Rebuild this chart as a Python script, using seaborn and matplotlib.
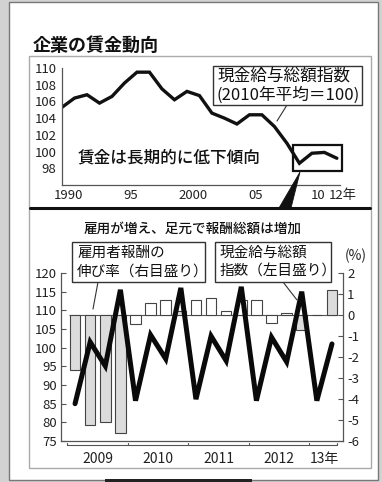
import numpy as np
import pandas as pd
import seaborn as sns
import matplotlib.pyplot as plt
from matplotlib import font_manager
from matplotlib.patches import Rectangle, Polygon
from matplotlib.lines import Line2D
from matplotlib.transforms import ScaledTranslation, blended_transform_factory

# top panel: annual wage index (2010 = 100)
years = list(range(1990, 2013))
wage_index = [105.3, 106.4, 106.8, 105.8, 106.6, 108.2, 109.5, 109.5, 107.5, 106.2,
              107.2, 106.7, 104.6, 104.0, 103.3, 104.4, 104.4, 103.0, 101.0, 98.6,
              99.8, 99.9, 99.2]
top_ticks = [1990, 1995, 2000, 2005, 2010, 2012]
top_ticklabels = ["1990", "95", "2000", "05", "10", "12年"]

# bottom panel: quarterly, 2009 Q1 .. 2013 Q2
quarters = list(range(18))
cash_index = [85.0, 101.5, 95.1, 115.5, 85.8, 103.4, 97.0, 116.0, 86.2,
              103.1, 96.5, 116.3, 85.8, 102.8, 96.2, 115.0, 85.8, 101.0]
comp_growth = [-2.6, -5.25, -5.1, -5.6, -0.45, 0.55, 0.7, 0.2, 0.7,
               0.8, 0.2, 0.7, 0.7, -0.4, 0.1, -0.7, 0.0, 1.2]
bar_fill = ["dot", "dot", "dot", "dot", "plain", "plain", "plain", "dot", "plain",
            "plain", "plain", "plain", "plain", "plain", "plain", "dot", "plain", "dot"]
year_centers = [1.5, 5.5, 9.5, 13.5, 16.5]
year_labels = ["2009", "2010", "2011", "2012", "13年"]
year_bounds = [-0.5, 3.5, 7.5, 11.5, 15.5, 17.3]
left_ticks = list(range(75, 121, 5))
right_ticks = list(range(-6, 3))

sns.set_style("white")
plt.rcParams['font.family'] = ['Noto Sans CJK JP', 'DejaVu Sans']
plt.rcParams['axes.unicode_minus'] = False

# narrow digits like the print original, if the narrow face is there
try:
    font_manager.findfont('Liberation Sans Narrow', fallback_to_default=False)
    tick_font = ['Liberation Sans Narrow', 'Noto Sans CJK JP', 'DejaVu Sans']
    tick_size = 10.5
except ValueError:
    tick_font = ['Noto Sans CJK JP', 'DejaVu Sans']
    tick_size = 9.5

W, H = 382, 482
fig = plt.figure(figsize=(W / 100, H / 100), dpi=100)
fig.patch.set_facecolor('#d2d2d2')


def box_px(x0, y0, x1, y1, **kw):
    r = Rectangle((x0 / W, 1 - y1 / H), (x1 - x0) / W, (y1 - y0) / H,
                  transform=fig.transFigure, **kw)
    fig.add_artist(r)


def text_px(x, y, s, **kw):
    fig.text(x / W, 1 - y / H, s, va='center', **kw)


def line_px(xs, ys, **kw):
    fig.add_artist(Line2D([x / W for x in xs], [1 - y / H for y in ys],
                          transform=fig.transFigure, **kw))


# page and frame
box_px(9, 2, 378, 480, facecolor='white', edgecolor='#777', lw=1, zorder=0)
box_px(29, 56, 371, 468, facecolor='none', edgecolor='#aaa', lw=1, zorder=1)
box_px(105, 479, 252, 482, facecolor='#222', edgecolor='none', zorder=1)

spine_col = '#555'

# ---------------- top panel ----------------
ax1 = fig.add_axes([62 / W, 1 - 185 / H, 278 / W, 117 / H])
ax1.patch.set_visible(False)
df_top = pd.DataFrame({"year": years, "index": wage_index})
sns.lineplot(data=df_top, x="year", y="index", ax=ax1, color='#111', lw=2.4,
             solid_joinstyle='miter')
ax1.set_xlim(1990, 2012.25)
ax1.set_ylim(96, 110)
ax1.set_yticks(range(98, 111, 2))
ax1.set_xticks(top_ticks)
ax1.set_xticklabels(top_ticklabels)
ax1.set_xticks(years, minor=True)
ax1.set_xlabel("")
ax1.set_ylabel("")
for s in ['top', 'right']:
    ax1.spines[s].set_visible(False)
for s in ['left', 'bottom']:
    ax1.spines[s].set_color(spine_col)
    ax1.spines[s].set_linewidth(0.9)
ax1.tick_params(axis='both', which='both', direction='in', color=spine_col,
                width=0.8, length=2.5)
ax1.tick_params(axis='y', length=3.5, pad=4)
ax1.tick_params(axis='x', pad=3)
for lab in ax1.get_yticklabels() + ax1.get_xticklabels():
    lab.set_family(tick_font)
    lab.set_fontsize(tick_size)
    lab.set_color('#222')
shift = ScaledTranslation(0.06, 0, fig.dpi_scale_trans)
for lab in ax1.get_xticklabels():
    lab.set_transform(lab.get_transform() + shift)

# small box around recent years
ax1.add_patch(Rectangle((2008.48, 97.64), 3.92, 3.12, facecolor='none',
                        edgecolor='#111', lw=1.6, clip_on=False))

# annotation box, text and connectors
box_px(213, 66, 362, 105, facecolor='white', edgecolor='#333', lw=1.0, zorder=3)
text_px(218, 76, "現金給与総額指数", fontsize=12, color='#111', zorder=4)
text_px(216, 95, "(2010年平均＝100)", fontsize=12, color='#111', zorder=4)
line_px([287, 277], [105, 121], color='#333', lw=0.8)
text_px(78, 157, "賃金は長期的に低下傾向", fontsize=12, fontweight='medium', color='#111')
text_px(33, 45, "企業の賃金動向", fontsize=13, fontweight='bold', color='#111')

fig.add_artist(Polygon([(300 / W, 1 - 172 / H), (279 / W, 1 - 208 / H), (291 / W, 1 - 208 / H)],
                       closed=True, transform=fig.transFigure, facecolor='#111',
                       edgecolor='#111', lw=0.6))
line_px([30, 370], [208, 208], color='#111', lw=2.2)
text_px(193, 229, "雇用が増え、足元で報酬総額は増加", fontsize=9.8, ha='center',
        fontweight='medium', color='#111')

# ---------------- bottom panel ----------------
ax = fig.add_axes([61 / W, 1 - 441 / H, 282 / W, 168 / H])
ax2 = ax.twinx()
df_bot = pd.DataFrame({"q": quarters, "cash": cash_index, "growth": comp_growth,
                       "fill": bar_fill})
sns.barplot(data=df_bot, x="q", y="growth", hue="fill", native_scale=True,
            palette={"dot": "#dcdcdc", "plain": "white"}, saturation=1,
            dodge=False, width=0.7, edgecolor='#444', linewidth=0.8,
            legend=False, ax=ax2, errorbar=None)
ax2.hlines(0, -0.4, 17.4, color=spine_col, lw=0.8, zorder=0.5)
sns.lineplot(data=df_bot, x="q", y="cash", ax=ax, color='#0a0a0a', lw=3.6,
             solid_joinstyle='miter')
ax.set_zorder(ax2.get_zorder() + 1)
ax.patch.set_visible(False)

ax.set_xlim(-0.93, 17.73)
ax.set_ylim(75, 120)
ax2.set_ylim(-6, 2)
ax.set_yticks(left_ticks)
ax2.set_yticks(right_ticks)
ax2.set_yticklabels([str(v) for v in right_ticks])
ax.set_xticks(quarters)
ax.set_xticklabels([])
ax.set_xticks(year_centers, minor=True)
ax.set_xticklabels(year_labels, minor=True)
for a in (ax, ax2):
    a.set_xlabel("")
    a.set_ylabel("")
    a.spines['top'].set_visible(False)
ax.spines['right'].set_visible(False)
ax2.spines['left'].set_visible(False)
ax2.spines['bottom'].set_visible(False)
for sp in [ax.spines['left'], ax.spines['bottom'], ax2.spines['right']]:
    sp.set_color(spine_col)
    sp.set_linewidth(0.9)
ax.tick_params(axis='x', which='major', direction='in', length=2.5, width=0.8,
               color=spine_col)
ax.tick_params(axis='x', which='minor', length=0, pad=8)
ax.tick_params(axis='y', direction='in', length=3.5, width=0.8, color=spine_col, pad=3)
ax2.tick_params(axis='y', direction='in', length=3.5, width=0.8, color=spine_col, pad=3)
for lab in ax.get_yticklabels() + ax2.get_yticklabels():
    lab.set_family(tick_font)
    lab.set_fontsize(tick_size)
    lab.set_color('#222')
for lab in ax.get_xticklabels(minor=True):
    lab.set_family(tick_font)
    lab.set_fontsize(tick_size + 0.5)
    lab.set_color('#222')

# year brackets under the quarter ticks
tr = blended_transform_factory(ax.transData, ax.transAxes)
ax.plot([year_bounds[0], year_bounds[-1]], [-0.024, -0.024], transform=tr,
        color=spine_col, lw=0.8, clip_on=False)
for b in year_bounds:
    ax.plot([b, b], [-0.024, -0.012], transform=tr, color=spine_col, lw=0.8,
            clip_on=False)

# annotation boxes
box_px(72, 242, 205, 282, facecolor='white', edgecolor='#333', lw=1.0, zorder=3)
text_px(77, 253, "雇用者報酬の", fontsize=10.5, color='#111', zorder=4)
text_px(77, 272, "伸び率（右目盛り）", fontsize=10.5, color='#111', zorder=4)
line_px([98, 93], [282, 309], color='#333', lw=0.8)
box_px(215, 242, 331, 282, facecolor='white', edgecolor='#333', lw=1.0, zorder=3)
text_px(220, 253, "現金給与総額", fontsize=10.5, color='#111', zorder=4)
text_px(220, 272, "指数（左目盛り）", fontsize=10.5, color='#111', zorder=4)
line_px([283, 297], [282, 300], color='#333', lw=0.8)
text_px(345, 256, "(%)", fontsize=10, color='#222', family=tick_font)

fig.savefig("out.png", dpi=100, facecolor=fig.get_facecolor())
